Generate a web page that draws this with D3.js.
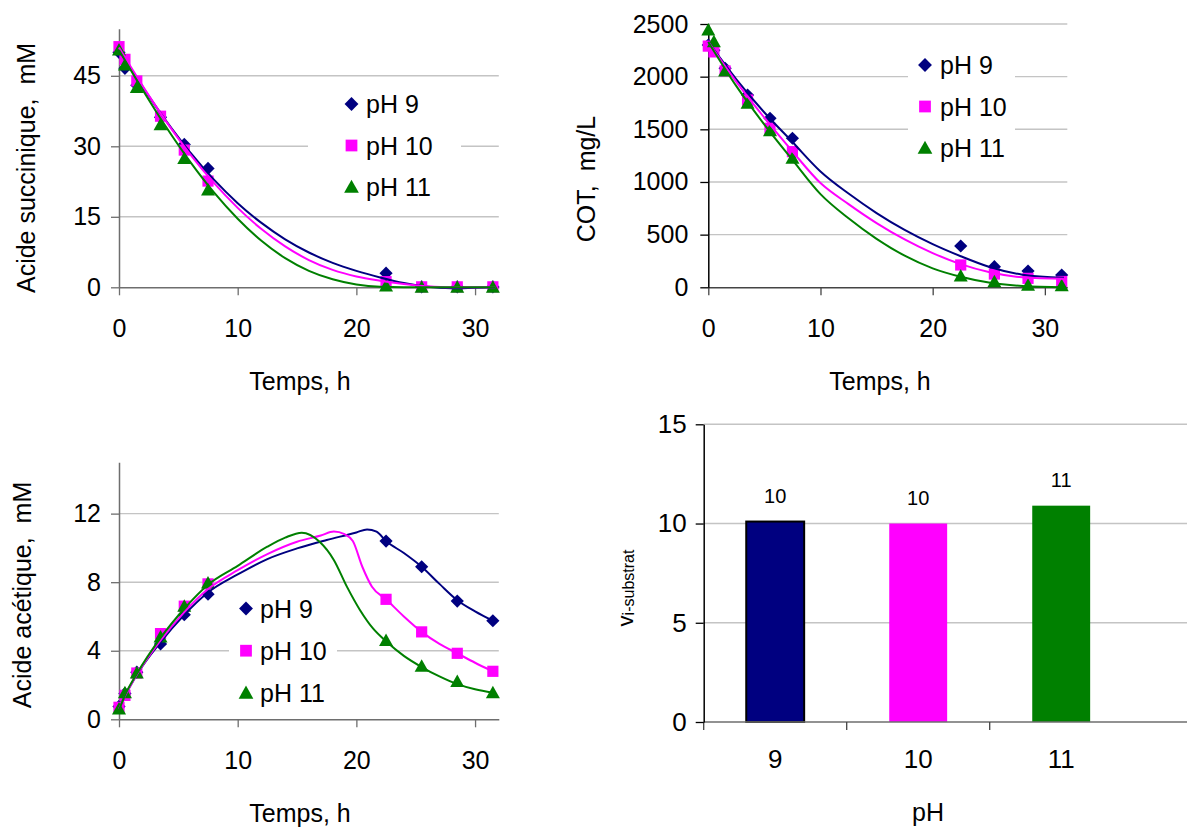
<!DOCTYPE html>
<html><head><meta charset="utf-8">
<script src="https://cdn.jsdelivr.net/npm/d3@7"></script>
<style>
body{margin:0;background:#fff}
svg{display:block}
text{font-family:"Liberation Sans",Arial,sans-serif;fill:#000}
</style>
</head><body>
<svg id="c" width="1187" height="829"></svg>
<script>
// ---------------- DATA ----------------
const seriesNames = ["pH 9", "pH 10", "pH 11"];
const timeH = [0, 0.5, 1.5, 3.5, 5.5, 7.5, 22.5, 25.5, 28.5, 31.5];
const xTicksTime = [0, 10, 20, 30];

// Acide succinique (mM)
const succ9  = [50.0, 46.6, 43.0, 36.2, 30.4, 25.3, 3.0, 0.1, 0.1, 0.1];
const succ10 = [51.2, 48.5, 43.9, 36.4, 29.2, 22.6, 1.2, 0.1, 0.1, 0.1];
const succ11 = [50.5, 47.3, 42.5, 34.6, 27.4, 20.7, 0.3, 0.0, 0.0, 0.0];
const succFitT   = [0, 2, 4, 6, 8, 10, 12, 14, 16, 18, 20, 22, 24, 26, 28, 30, 31.7];
const succFit9   = [50.5, 42.6, 35.3, 28.7, 22.9, 17.9, 13.7, 10.2, 7.4, 5.2, 3.5, 2.1, 0.9, 0.1, -0.2, -0.1, 0.0];
const succFit10  = [51.0, 42.8, 35.2, 28.3, 22.2, 16.9, 12.4, 8.7, 5.8, 3.7, 2.3, 1.4, 0.7, 0.2, 0.0, 0.0, 0.0];
const succFit11  = [50.5, 42.0, 34.0, 26.7, 20.2, 14.6, 9.9, 6.2, 3.5, 1.7, 0.6, 0.1, 0.0, 0.0, 0.0, 0.0, 0.0];
const succTicks = [0, 15, 30, 45];

// COT (mg/L)
const cot9  = [2300, 2250, 2080, 1826, 1604, 1415, 392, 196, 155, 117];
const cot10 = [2290, 2235, 2054, 1778, 1510, 1288, 212, 126, 85, 55];
const cot11 = [2443, 2332, 2054, 1747, 1487, 1225, 107, 53, 20, 15];
const cotFitT  = [0, 2.5, 5, 7.5, 10, 12.5, 15, 17.5, 20, 22.5, 25, 28, 31.7];
const cotFit9  = [2330, 1975, 1660, 1380, 1100, 890, 705, 545, 410, 295, 195, 120, 90];
const cotFit10 = [2330, 1950, 1610, 1290, 990, 790, 610, 455, 325, 220, 145, 95, 80];
const cotFit11 = [2330, 1910, 1545, 1210, 885, 655, 460, 300, 180, 100, 45, 12, 0];
const cotTicks = [0, 500, 1000, 1500, 2000, 2500];

// Acide acétique (mM)
const acet9  = [0.75, 1.5, 2.75, 4.4, 6.1, 7.3, 10.4, 8.9, 6.9, 5.75];
const acet10 = [0.7, 1.4, 2.7, 5.0, 6.6, 7.9, 7.0, 5.1, 3.85, 2.8];
const acet11 = [0.6, 1.55, 2.7, 4.8, 6.6, 7.95, 4.6, 3.1, 2.2, 1.55];
const acetFitT9  = [0, 0.5, 1.5, 3.5, 5.5, 7.5, 10, 12.5, 15, 17.5, 20, 20.9, 21.7, 22.5, 24, 25.5, 27, 28.5, 30, 31.5];
const acetFit9   = [0.6, 1.35, 2.6, 4.5, 6.1, 7.4, 8.45, 9.35, 9.97, 10.46, 10.9, 11.08, 10.95, 10.4, 9.7, 8.9, 7.9, 6.95, 6.3, 5.75];
const acetFitT10 = [0, 0.5, 1.5, 3.5, 5.5, 7.5, 10, 12.5, 15, 17, 18.1, 19, 19.7, 20.5, 21.3, 22.5, 24, 25.5, 27, 28.5, 30, 31.5];
const acetFit10  = [0.6, 1.35, 2.6, 4.6, 6.25, 7.6, 8.7, 9.64, 10.36, 10.72, 10.95, 10.8, 10.4, 8.9, 7.75, 7.0, 6.0, 5.1, 4.4, 3.85, 3.3, 2.8];
const acetFitT11 = [0, 0.5, 1.5, 3.5, 5.5, 7.5, 10, 12.5, 14, 15.4, 16.9, 18.1, 19.2, 20.3, 21.4, 22.5, 24, 25.5, 27, 28.5, 30, 31.5];
const acetFit11  = [0.55, 1.4, 2.65, 4.75, 6.45, 7.85, 8.95, 10.07, 10.6, 10.89, 10.36, 9.3, 7.74, 6.38, 5.3, 4.55, 3.7, 3.05, 2.5, 2.05, 1.75, 1.55];
const acetTicks = [0, 4, 8, 12];

// Vitesse initiale (barres)
const phCategories = ["9", "10", "11"];
const viSubstrat = [10.1, 10.0, 10.9];
const barTicks = [0, 5, 10, 15];

// ---------------- STYLE ----------------
const COLORS = ["#000080", "#FF00FF", "#008000"];
const SHAPES = ["diamond", "square", "triangle"];
const FONT = 25;
const fmtInt = d3.format("d");

function markerPath(shape, x, y, s) {
  s = s || 1;
  if (shape === "diamond") { const r = 6.6 * s; return `M${x},${y - r}L${x + r},${y}L${x},${y + r}L${x - r},${y}Z`; }
  if (shape === "square") { const r = 5.6 * s; return `M${x - r},${y - r}h${2 * r}v${2 * r}h${-2 * r}Z`; }
  const w = 7 * s, h1 = 7 * s, h2 = 5.5 * s;
  return `M${x},${y - h1}L${x + w},${y + h2}L${x - w},${y + h2}Z`;
}

const svg = d3.select("#c");

function styleAxis(g, color, fs) {
  g.attr("font-family", null).attr("font-size", null);
  g.select(".domain").attr("stroke", color).attr("stroke-width", 1.5);
  g.selectAll(".tick line").attr("stroke", color).attr("stroke-width", 1.3);
  g.selectAll(".tick text").style("font-size", fs + "px").attr("fill", "#000");
}

function linePanel(o) {
  const x = d3.scaleLinear().domain([0, 32]).range([o.left, o.right]);
  const y = d3.scaleLinear().domain([0, o.yMax]).range([o.bottom, o.top]);
  const g = svg.append("g");

  // gridlines
  g.selectAll("line.grid").data(o.yTicks.filter(d => d > 0)).join("line")
    .attr("x1", x(0)).attr("x2", x(32)).attr("y1", d => y(d)).attr("y2", d => y(d))
    .attr("stroke", "#c4c4c4").attr("stroke-width", 1.4);

  // legend box (white, covers gridlines)
  g.append("rect").attr("x", o.legend.bx).attr("y", o.legend.by)
    .attr("width", o.legend.bw).attr("height", o.legend.bh).attr("fill", "#fff");

  // axes
  const ax = g.append("g").attr("transform", `translate(0,${y(0)})`)
    .call(d3.axisBottom(x).tickValues(xTicksTime).tickFormat(fmtInt).tickSize(8).tickPadding(24).tickSizeOuter(0));
  styleAxis(ax, o.xAxisColor, FONT);
  const ay = g.append("g").attr("transform", `translate(${x(0)},0)`)
    .call(d3.axisLeft(y).tickValues(o.yTicks).tickFormat(fmtInt).tickSize(8).tickPadding(o.yPad).tickSizeOuter(0));
  styleAxis(ay, o.yAxisColor, FONT);

  // markers
  o.data.forEach((arr, i) => {
    g.append("g").selectAll("path").data(arr.map((v, j) => [timeH[j], v])).join("path")
      .attr("d", d => markerPath(SHAPES[i], x(d[0]), y(d[1])))
      .attr("fill", COLORS[i]);
  });

  // fitted curves
  const line = d3.line().x(d => x(d[0])).y(d => y(d[1])).curve(d3.curveMonotoneX);
  o.fits.forEach((f, i) => {
    g.append("path").attr("d", line(f.t.map((t, j) => [t, f.v[j]])))
      .attr("fill", "none").attr("stroke", COLORS[i]).attr("stroke-width", 2);
  });

  // legend
  seriesNames.forEach((n, i) => {
    const yy = o.legend.y + i * o.legend.dy;
    g.append("path").attr("d", markerPath(SHAPES[i], o.legend.mx, yy, 1.05)).attr("fill", COLORS[i]);
    g.append("text").attr("x", o.legend.tx).attr("y", yy).attr("dy", "0.36em")
      .style("font-size", FONT + "px").text(n);
  });

  // titles
  g.append("text").attr("transform", `translate(${o.yTitle[0]},${o.yTitle[1]}) rotate(-90)`)
    .attr("text-anchor", "middle").style("font-size", FONT + "px").style("white-space", "pre").text(o.yTitleText);
  g.append("text").attr("x", o.xTitle[0]).attr("y", o.xTitle[1])
    .attr("text-anchor", "middle").style("font-size", FONT + "px").text("Temps, h");
}

// Panel 1: Acide succinique
linePanel({
  left: 119, right: 498.8, top: 28.8, bottom: 287.3, yMax: 55, yTicks: succTicks, yPad: 10,
  xAxisColor: "#6e6e6e", yAxisColor: "#6e6e6e",
  data: [succ9, succ10, succ11],
  fits: [{t: succFitT, v: succFit9}, {t: succFitT, v: succFit10}, {t: succFitT, v: succFit11}],
  legend: {bx: 308, by: 84, bw: 153, bh: 122, mx: 351.5, tx: 366, y: 104, dy: 41.5},
  yTitle: [35, 168], yTitleText: "Acide succinique,  mM",
  xTitle: [300, 390]
});

// Panel 2: COT
linePanel({
  left: 708.3, right: 1067.3, top: 24, bottom: 287.3, yMax: 2500, yTicks: cotTicks, yPad: 12,
  xAxisColor: "#444", yAxisColor: "#000",
  data: [cot9, cot10, cot11],
  fits: [{t: cotFitT, v: cotFit9}, {t: cotFitT, v: cotFit10}, {t: cotFitT, v: cotFit11}],
  legend: {bx: 908, by: 42, bw: 107, bh: 126, mx: 925, tx: 940, y: 65, dy: 41.5},
  yTitle: [595, 179], yTitleText: "COT,  mg/L",
  xTitle: [880, 390]
});

// Panel 3: Acide acétique
linePanel({
  left: 119, right: 498.8, top: 462.2, bottom: 719.3, yMax: 15, yTicks: acetTicks, yPad: 10,
  xAxisColor: "#6e6e6e", yAxisColor: "#6e6e6e",
  data: [acet9, acet10, acet11],
  fits: [{t: acetFitT9, v: acetFit9}, {t: acetFitT10, v: acetFit10}, {t: acetFitT11, v: acetFit11}],
  legend: {bx: 229, by: 588, bw: 108, bh: 124, mx: 246, tx: 260, y: 608.5, dy: 42.2},
  yTitle: [31, 595], yTitleText: "Acide acétique,  mM",
  xTitle: [300, 822]
});

// Panel 4: bar chart
(function () {
  const x = d3.scaleBand().domain(phCategories).range([703.7, 1132.7]).paddingInner(0.595).paddingOuter(0.2975);
  const y = d3.scaleLinear().domain([0, 15]).range([722, 424.3]);
  const g = svg.append("g");
  g.selectAll("line.grid").data(barTicks.filter(d => d > 0)).join("line")
    .attr("x1", 703.7).attr("x2", 1187).attr("y1", d => y(d)).attr("y2", d => y(d))
    .attr("stroke", "#c4c4c4").attr("stroke-width", 1.4);

  g.selectAll("rect.bar").data(viSubstrat).join("rect")
    .attr("x", (d, i) => x(phCategories[i])).attr("width", x.bandwidth())
    .attr("y", d => y(d)).attr("height", d => y(0) - y(d))
    .attr("fill", (d, i) => COLORS[i])
    .attr("stroke", (d, i) => i === 0 ? "#000" : "none").attr("stroke-width", 2);

  // x axis line + category ticks
  g.append("line").attr("x1", 703.7).attr("x2", 1187).attr("y1", y(0)).attr("y2", y(0))
    .attr("stroke", "#6e6e6e").attr("stroke-width", 1.5);
  g.selectAll("line.ct").data(phCategories).join("line")
    .attr("x1", d => x(d) - x.step() * x.paddingInner() / 2).attr("x2", d => x(d) - x.step() * x.paddingInner() / 2)
    .attr("y1", y(0)).attr("y2", y(0) + 8).attr("stroke", "#444").attr("stroke-width", 1.3);
  g.selectAll("text.cat").data(phCategories).join("text")
    .attr("x", d => x(d) + x.bandwidth() / 2).attr("y", 768)
    .attr("text-anchor", "middle").style("font-size", "26px").text(d => d);

  const ay = g.append("g").attr("transform", "translate(703.7,0)")
    .call(d3.axisLeft(y).tickValues(barTicks).tickFormat(fmtInt).tickSize(8).tickPadding(9).tickSizeOuter(0));
  styleAxis(ay, "#000", 26);

  // value labels
  g.selectAll("text.val").data(viSubstrat).join("text")
    .attr("x", (d, i) => x(phCategories[i]) + x.bandwidth() / 2).attr("y", d => y(d) - 18.5)
    .attr("text-anchor", "middle").style("font-size", "20px").text(d => d3.format(".0f")(d));

  // titles
  const yt = g.append("text").attr("transform", "translate(633,588) rotate(-90)").attr("text-anchor", "middle");
  yt.append("tspan").style("font-size", "22px").text("v");
  yt.append("tspan").style("font-size", "16px").attr("dy", 1).text("i-substrat");
  g.append("text").attr("x", 928).attr("y", 821).attr("text-anchor", "middle").style("font-size", "25px").text("pH");
})();
</script>
</body></html>
